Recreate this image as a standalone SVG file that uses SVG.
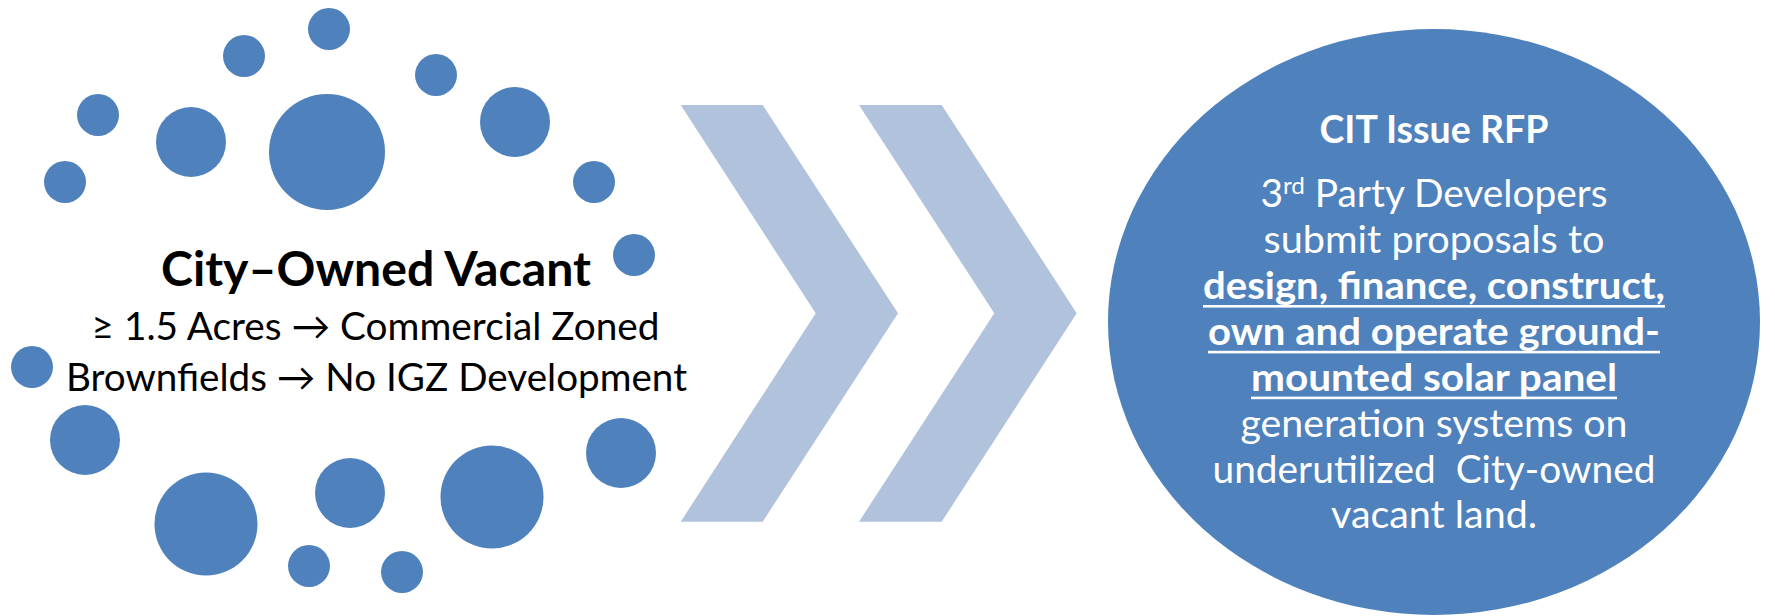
<svg xmlns="http://www.w3.org/2000/svg" width="1775" height="616" viewBox="0 0 1775 616">
  <style>
    .dot { fill: #4F81BD; }
    .chev { fill: #B1C2DD; }
    .lt { font-family: Lato, "Open Sans", "Liberation Sans", sans-serif; fill: #000000; text-anchor: middle; }
    .rt { font-family: Lato, "Open Sans", "Liberation Sans", sans-serif; fill: #FFFFFF; text-anchor: middle; }
    .b { font-weight: bold; }
    .ul { fill: #FFFFFF; }
  </style>
  <rect x="0" y="0" width="1775" height="616" fill="#FFFFFF"/>

  <g id="node-city-owned-vacant">
    <g id="dots">
      <circle class="dot" cx="329" cy="29" r="21"/>
      <circle class="dot" cx="244" cy="56" r="21"/>
      <circle class="dot" cx="436" cy="75" r="21"/>
      <circle class="dot" cx="98" cy="115" r="21"/>
      <circle class="dot" cx="191" cy="142" r="35"/>
      <circle class="dot" cx="327" cy="152" r="58"/>
      <circle class="dot" cx="515" cy="122" r="35"/>
      <circle class="dot" cx="65" cy="182" r="21"/>
      <circle class="dot" cx="594" cy="182" r="21"/>
      <circle class="dot" cx="634" cy="255" r="21"/>
      <circle class="dot" cx="32" cy="367" r="21"/>
      <circle class="dot" cx="85" cy="440" r="35"/>
      <circle class="dot" cx="206" cy="524" r="51.5"/>
      <circle class="dot" cx="350" cy="493" r="35"/>
      <circle class="dot" cx="309" cy="566" r="21"/>
      <circle class="dot" cx="402" cy="572" r="21"/>
      <circle class="dot" cx="492" cy="497" r="51.5"/>
      <circle class="dot" cx="621" cy="453" r="35"/>
    </g>
    <text class="lt b" x="376" y="286" font-size="47.5" textLength="430" lengthAdjust="spacingAndGlyphs">City–Owned Vacant</text>
    <text class="lt" x="375.5" y="340" font-size="38.5" textLength="568" lengthAdjust="spacingAndGlyphs">≥ 1.5 Acres → Commercial Zoned</text>
    <text class="lt" x="376.5" y="390.5" font-size="38.5" textLength="621" lengthAdjust="spacingAndGlyphs">Brownfields → No IGZ Development</text>
  </g>

  <g id="connectors">
    <polygon class="chev" points="680.7,105 762.7,105 898,313.3 762.7,521.7 680.7,521.7 815.7,313.3"/>
    <polygon class="chev" points="859,105 941.7,105 1076.7,313.3 941.7,521.7 859,521.7 994.3,313.3"/>
  </g>

  <g id="node-cit-issue-rfp">
    <ellipse class="dot" cx="1434" cy="322" rx="326" ry="293"/>
    <text class="rt b" x="1434" y="143.3" font-size="38" textLength="229" lengthAdjust="spacingAndGlyphs">CIT Issue RFP</text>
    <text class="rt" x="1434" y="207.3" font-size="38.5" textLength="347" lengthAdjust="spacingAndGlyphs">3<tspan font-size="24" dy="-13.5">rd</tspan><tspan dy="13.5"> Party Developers</tspan></text>
    <text class="rt" x="1434" y="253.2" font-size="38.5" textLength="341" lengthAdjust="spacingAndGlyphs">submit proposals to</text>
    <text class="rt b" x="1434" y="299" font-size="38.5" textLength="462" lengthAdjust="spacingAndGlyphs">design, finance, construct,</text>
    <rect class="ul" x="1203" y="305" width="462" height="2.6"/>
    <text class="rt b" x="1434" y="344.9" font-size="38.5" textLength="452" lengthAdjust="spacingAndGlyphs">own and operate ground-</text>
    <rect class="ul" x="1208" y="350.8" width="452" height="2.6"/>
    <text class="rt b" x="1434" y="390.7" font-size="38.5" textLength="366" lengthAdjust="spacingAndGlyphs">mounted solar panel</text>
    <rect class="ul" x="1251" y="396.6" width="366" height="2.6"/>
    <text class="rt" x="1434" y="436.6" font-size="38.5" textLength="387" lengthAdjust="spacingAndGlyphs">generation systems on</text>
    <text class="rt" x="1434" y="482.5" font-size="38.5" textLength="443" lengthAdjust="spacingAndGlyphs" style="white-space:pre">underutilized  City-owned</text>
    <text class="rt" x="1434" y="528.3" font-size="38.5" textLength="206" lengthAdjust="spacingAndGlyphs">vacant land.</text>
  </g>
</svg>
